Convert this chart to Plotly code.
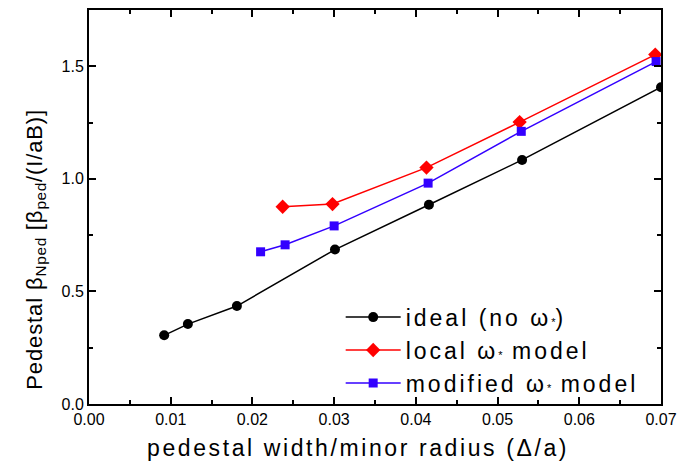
import plotly.graph_objects as go

ideal_x = [0.0092, 0.0121, 0.0181, 0.0301, 0.0416, 0.0530, 0.0700]
ideal_y = [0.305, 0.355, 0.435, 0.686, 0.885, 1.084, 1.407]
local_x = [0.0237, 0.0298, 0.0413, 0.0527, 0.0693]
local_y = [0.876, 0.888, 1.050, 1.252, 1.552]
mod_x = [0.0210, 0.0240, 0.0300, 0.0415, 0.0529, 0.0694]
mod_y = [0.676, 0.707, 0.791, 0.981, 1.211, 1.521]

x_title = "pedestal width/minor radius (Δ/a)"


def spaced(txt, px):
    return "<span style='letter-spacing:%.1fpx'>%s</span>" % (px, txt)


YS = 0.9
y_title = (spaced("Pedestal β", YS) + "<sub>" + spaced("Nped", 0.6) + "</sub>"
           + spaced(" [β", YS) + "<sub>" + spaced("ped", 0.6) + "</sub>"
           + spaced("/(I/aB)]", YS))

star = "<span style='font-size:11px'>*</span>"
LS = 3.0
names = [spaced("ideal (no ω", LS) + star + ")",
         spaced("local ω", LS) + star + spaced(" model", LS),
         spaced("modified ω", LS) + star + spaced(" model", LS)]

FONT = "Liberation Sans, Arial"
fig = go.Figure()
fig.add_trace(go.Scatter(x=ideal_x, y=ideal_y, mode="lines+markers", name=names[0],
                         line=dict(color="black", width=1.5),
                         marker=dict(symbol="circle", size=10, color="black")))
fig.add_trace(go.Scatter(x=local_x, y=local_y, mode="lines+markers", name=names[1],
                         line=dict(color="#ff0000", width=1.5),
                         marker=dict(symbol="diamond", size=11, color="#ff0000")))
fig.add_trace(go.Scatter(x=mod_x, y=mod_y, mode="lines+markers", name=names[2],
                         line=dict(color="#3300ff", width=1.5),
                         marker=dict(symbol="square", size=9, color="#3300ff")))

axis_common = dict(showgrid=False, zeroline=False, showline=True, linecolor="black", linewidth=2,
                   ticks="inside", ticklen=7, tickwidth=1.5, tickcolor="black", mirror="ticks",
                   automargin=False,
                   tickfont=dict(family="Liberation Sans, Arial", size=16, color="black"))

fig.update_xaxes(range=[0, 0.07], dtick=0.01, tickformat=".2f",
                 minor=dict(dtick=0.005, ticks="inside", ticklen=4, tickwidth=1.5, tickcolor="black"),
                 **axis_common)
fig.update_yaxes(range=[0, 1.75], dtick=0.5, tickformat=".1f",
                 minor=dict(dtick=0.25, ticks="inside", ticklen=4, tickwidth=1.5, tickcolor="black"),
                 **axis_common)

fig.add_annotation(text=spaced(x_title, 2.6), xref="paper", yref="paper",
                   x=0.470, y=-0.112, xanchor="center", yanchor="middle", showarrow=False,
                   font=dict(family=FONT, size=23, color="black"))
fig.add_annotation(text=y_title, xref="paper", yref="paper", textangle=-90,
                   x=-0.094, y=0.392, xanchor="center", yanchor="middle", showarrow=False,
                   font=dict(family=FONT, size=22, color="black"))

fig.update_layout(width=685, height=462, margin=dict(l=89, r=24, t=10, b=58),
                  paper_bgcolor="white", plot_bgcolor="white",
                  legend=dict(x=0.44, y=0.275, xanchor="left", yanchor="top",
                              bgcolor="rgba(0,0,0,0)",
                              font=dict(family=FONT, size=23, color="black"),
                              tracegroupgap=0, itemwidth=55))

fig.write_html("out.html")
